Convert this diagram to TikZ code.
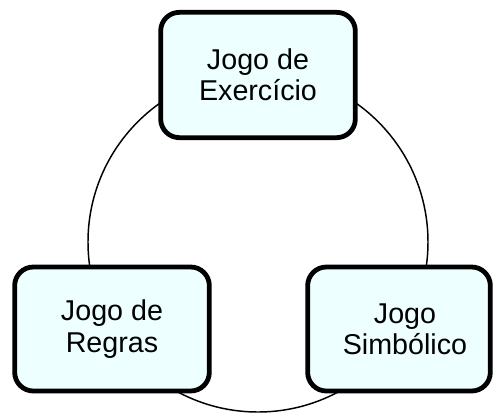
\documentclass[tikz,border=0pt]{standalone}
\usepackage{fontspec}
\setmainfont{Liberation Sans}
\definecolor{boxfill}{RGB}{238,255,255}
\begin{document}
\begin{tikzpicture}[x=0.75pt,y=-0.75pt,
  box/.style={draw=black, line width=3.6pt, rounded corners=14pt, fill=boxfill,
    minimum width=146pt, minimum height=93pt, inner sep=0pt},
  lbl/.style={align=center, font=\fontsize{21.5}{23.5}\selectfont, inner sep=0pt},
  ring/.style={draw=black, line width=1.1pt}]
\useasboundingbox (0,0) rectangle (494,412);
\coordinate (c) at (258,242);
\draw[ring] (c) circle[radius=127.5pt];
\node[box, minimum height=94pt] (top) at (258,75) {};
\node[lbl] (toptext) at (top.center) {Jogo de\\Exercício};
\node[box] (left) at (112,329) {};
\node[lbl] (lefttext) at (left.center) {Jogo de\\Regras};
\node[box, minimum width=137pt] (right) at (399,329) {};
\node[lbl] (righttext) at (405,329) {Jogo\\Simbólico};
\end{tikzpicture}
\end{document}
